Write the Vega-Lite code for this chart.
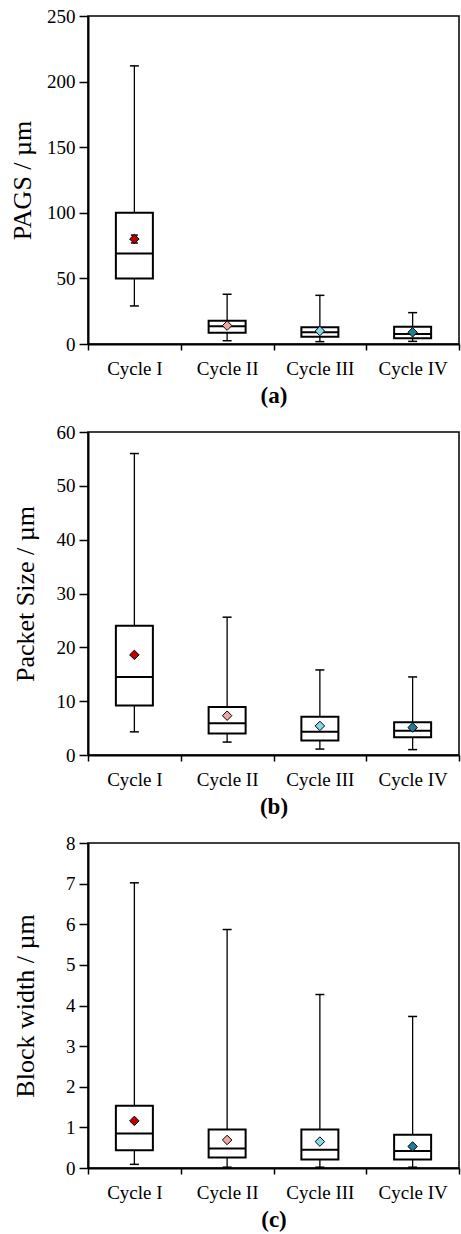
{
  "$schema": "https://vega.github.io/schema/vega-lite/v6.json",
  "padding": {"left": 8, "top": 6, "right": 0, "bottom": 0},
  "background": "white",
  "spacing": 14,
  "config": {
    "view": {"stroke": "#000", "strokeWidth": 1.5},
    "tick": {"opacity": 1},
    "axis": {"grid": false, "domainColor": "#000", "domainWidth": 2, "tickColor": "#000", "tickWidth": 1.5, "labelColor": "#000", "titleColor": "#000", "labelFont": "Liberation Serif", "titleFont": "Liberation Serif", "labelFontSize": 19},
    "axisX": {"tickBand": "extent", "labelAngle": 0, "tickSize": 6, "labelPadding": 9, "titleFontWeight": "bold", "titleFontSize": 23, "titlePadding": 6},
    "axisY": {"tickSize": 9, "labelPadding": 4, "titleFontWeight": "normal", "titleFontSize": 26}
  },
  "vconcat": [
    {
      "width": 371, "height": 328,
      "data": {"values": [
        {"cycle": "Cycle I", "lo": 29, "q1": 50, "med": 69, "q3": 100, "hi": 212, "mean": 80, "mlo": 77, "mhi": 83},
        {"cycle": "Cycle II", "lo": 2.5, "q1": 8.6, "med": 13.5, "q3": 17.8, "hi": 37.9, "mean": 14, "mlo": null, "mhi": null},
        {"cycle": "Cycle III", "lo": 1.8, "q1": 5.6, "med": 8.9, "q3": 12.7, "hi": 37.1, "mean": 9.9, "mlo": null, "mhi": null},
        {"cycle": "Cycle IV", "lo": 2, "q1": 4.3, "med": 7.6, "q3": 13.2, "hi": 23.9, "mean": 8.9, "mlo": null, "mhi": null}
      ]},
      "encoding": {"x": {"field": "cycle", "type": "nominal", "sort": null, "scale": {"paddingInner": 0, "paddingOuter": 0}, "axis": {"title": "(a)"}}},
      "layer": [
        {"mark": {"type": "rule", "color": "#000", "strokeWidth": 1.3},
         "encoding": {"y": {"field": "lo", "type": "quantitative", "scale": {"domain": [0, 250], "nice": false}, "axis": {"title": "PAGS / µm", "values": [0, 50, 100, 150, 200, 250], "titleX": -53}}, "y2": {"field": "hi"}}},
        {"mark": {"type": "tick", "color": "#000", "size": 9, "thickness": 1.5, "opacity": 1}, "encoding": {"y": {"field": "lo", "type": "quantitative"}}},
        {"mark": {"type": "tick", "color": "#000", "size": 9, "thickness": 1.5, "opacity": 1}, "encoding": {"y": {"field": "hi", "type": "quantitative"}}},
        {"mark": {"type": "bar", "width": 37, "fill": "white", "stroke": "#000", "strokeWidth": 2, "opacity": 1}, "encoding": {"y": {"field": "q1", "type": "quantitative"}, "y2": {"field": "q3"}}},
        {"mark": {"type": "tick", "color": "#000", "size": 37, "thickness": 2, "opacity": 1}, "encoding": {"y": {"field": "med", "type": "quantitative"}}},
        {"mark": {"type": "rule", "color": "#000", "strokeWidth": 1.3}, "encoding": {"y": {"field": "mlo", "type": "quantitative"}, "y2": {"field": "mhi"}}},
        {"mark": {"type": "tick", "color": "#000", "size": 7, "thickness": 1.5, "opacity": 1}, "encoding": {"y": {"field": "mlo", "type": "quantitative"}}},
        {"mark": {"type": "tick", "color": "#000", "size": 7, "thickness": 1.5, "opacity": 1}, "encoding": {"y": {"field": "mhi", "type": "quantitative"}}},
        {"mark": {"type": "point", "shape": "diamond", "filled": true, "size": 90, "stroke": "#000", "strokeWidth": 1, "opacity": 1},
         "encoding": {"y": {"field": "mean", "type": "quantitative"}, "color": {"field": "cycle", "type": "nominal", "legend": null, "scale": {"domain": ["Cycle I", "Cycle II", "Cycle III", "Cycle IV"], "range": ["#c00000", "#f4a3a3", "#86d6ee", "#1f7f99"]}}}}
      ]
    },
    {
      "width": 371, "height": 323,
      "data": {"values": [
        {"cycle": "Cycle I", "lo": 4.3, "q1": 9.2, "med": 14.5, "q3": 24, "hi": 56, "mean": 18.6},
        {"cycle": "Cycle II", "lo": 2.4, "q1": 4.0, "med": 5.9, "q3": 8.9, "hi": 25.6, "mean": 7.3},
        {"cycle": "Cycle III", "lo": 1.1, "q1": 2.7, "med": 4.3, "q3": 7.1, "hi": 15.8, "mean": 5.4},
        {"cycle": "Cycle IV", "lo": 1.0, "q1": 3.3, "med": 4.5, "q3": 6.1, "hi": 14.5, "mean": 5.1}
      ]},
      "encoding": {"x": {"field": "cycle", "type": "nominal", "sort": null, "scale": {"paddingInner": 0, "paddingOuter": 0}, "axis": {"title": "(b)"}}},
      "layer": [
        {"mark": {"type": "rule", "color": "#000", "strokeWidth": 1.3},
         "encoding": {"y": {"field": "lo", "type": "quantitative", "scale": {"domain": [0, 60], "nice": false}, "axis": {"title": "Packet Size / µm", "values": [0, 10, 20, 30, 40, 50, 60], "titleX": -50}}, "y2": {"field": "hi"}}},
        {"mark": {"type": "tick", "color": "#000", "size": 9, "thickness": 1.5, "opacity": 1}, "encoding": {"y": {"field": "lo", "type": "quantitative"}}},
        {"mark": {"type": "tick", "color": "#000", "size": 9, "thickness": 1.5, "opacity": 1}, "encoding": {"y": {"field": "hi", "type": "quantitative"}}},
        {"mark": {"type": "bar", "width": 37, "fill": "white", "stroke": "#000", "strokeWidth": 2, "opacity": 1}, "encoding": {"y": {"field": "q1", "type": "quantitative"}, "y2": {"field": "q3"}}},
        {"mark": {"type": "tick", "color": "#000", "size": 37, "thickness": 2, "opacity": 1}, "encoding": {"y": {"field": "med", "type": "quantitative"}}},
        {"mark": {"type": "point", "shape": "diamond", "filled": true, "size": 90, "stroke": "#000", "strokeWidth": 1, "opacity": 1},
         "encoding": {"y": {"field": "mean", "type": "quantitative"}, "color": {"field": "cycle", "type": "nominal", "legend": null, "scale": {"domain": ["Cycle I", "Cycle II", "Cycle III", "Cycle IV"], "range": ["#c00000", "#f4a3a3", "#86d6ee", "#1f7f99"]}}}}
      ]
    },
    {
      "width": 371, "height": 325,
      "data": {"values": [
        {"cycle": "Cycle I", "lo": 0.09, "q1": 0.44, "med": 0.85, "q3": 1.53, "hi": 7.02, "mean": 1.16, "mlo": 1.12, "mhi": 1.2},
        {"cycle": "Cycle II", "lo": 0.02, "q1": 0.26, "med": 0.48, "q3": 0.95, "hi": 5.87, "mean": 0.69, "mlo": null, "mhi": null},
        {"cycle": "Cycle III", "lo": 0.02, "q1": 0.21, "med": 0.45, "q3": 0.95, "hi": 4.27, "mean": 0.65, "mlo": null, "mhi": null},
        {"cycle": "Cycle IV", "lo": 0.02, "q1": 0.21, "med": 0.42, "q3": 0.82, "hi": 3.73, "mean": 0.53, "mlo": null, "mhi": null}
      ]},
      "encoding": {"x": {"field": "cycle", "type": "nominal", "sort": null, "scale": {"paddingInner": 0, "paddingOuter": 0}, "axis": {"title": "(c)"}}},
      "layer": [
        {"mark": {"type": "rule", "color": "#000", "strokeWidth": 1.3},
         "encoding": {"y": {"field": "lo", "type": "quantitative", "scale": {"domain": [0, 8], "nice": false}, "axis": {"title": "Block width / µm", "values": [0, 1, 2, 3, 4, 5, 6, 7, 8], "titleX": -50}}, "y2": {"field": "hi"}}},
        {"mark": {"type": "tick", "color": "#000", "size": 9, "thickness": 1.5, "opacity": 1}, "encoding": {"y": {"field": "lo", "type": "quantitative"}}},
        {"mark": {"type": "tick", "color": "#000", "size": 9, "thickness": 1.5, "opacity": 1}, "encoding": {"y": {"field": "hi", "type": "quantitative"}}},
        {"mark": {"type": "bar", "width": 37, "fill": "white", "stroke": "#000", "strokeWidth": 2, "opacity": 1}, "encoding": {"y": {"field": "q1", "type": "quantitative"}, "y2": {"field": "q3"}}},
        {"mark": {"type": "tick", "color": "#000", "size": 37, "thickness": 2, "opacity": 1}, "encoding": {"y": {"field": "med", "type": "quantitative"}}},
        {"mark": {"type": "rule", "color": "#000", "strokeWidth": 1.3}, "encoding": {"y": {"field": "mlo", "type": "quantitative"}, "y2": {"field": "mhi"}}},
        {"mark": {"type": "point", "shape": "diamond", "filled": true, "size": 90, "stroke": "#000", "strokeWidth": 1, "opacity": 1},
         "encoding": {"y": {"field": "mean", "type": "quantitative"}, "color": {"field": "cycle", "type": "nominal", "legend": null, "scale": {"domain": ["Cycle I", "Cycle II", "Cycle III", "Cycle IV"], "range": ["#c00000", "#f4a3a3", "#86d6ee", "#1f7f99"]}}}}
      ]
    }
  ]
}
